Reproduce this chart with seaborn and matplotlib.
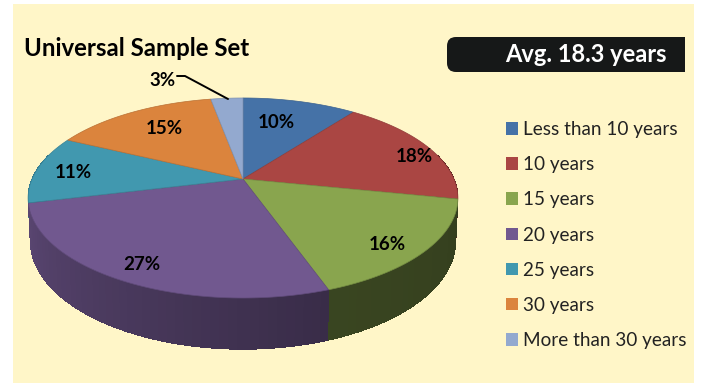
import numpy as np
import matplotlib
matplotlib.use("Agg")
import matplotlib.pyplot as plt
from matplotlib.patches import FancyBboxPatch, Patch, Rectangle
import seaborn as sns

categories = ["Less than 10 years", "10 years", "15 years", "20 years",
              "25 years", "30 years", "More than 30 years"]
values = [10.3, 17.9, 16.4, 26.6, 11.0, 14.9, 2.9]
colors = ["#4572A7", "#AA4643", "#89A54E", "#71588F", "#4198AF", "#DB843D", "#93A9CF"]
title = "Universal Sample Set"
badge = "Avg. 18.3 years"

sns.set_theme(style="white")
plt.rcParams["font.family"] = ["Lato", "DejaVu Sans"]
palette = sns.color_palette(colors)
BG = "#FFF6C8"

W, H = 702, 383
fig = plt.figure(figsize=(W / 100, H / 100), dpi=100, facecolor="white")
L, T, R, B = 13, 4, 694, 383
ax = fig.add_axes([L / W, 1 - B / H, (R - L) / W, (B - T) / H], facecolor=BG)
ax.set_xlim(L, R)
ax.set_ylim(B, T)
ax.set_xticks([]); ax.set_yticks([])
sns.despine(ax=ax, left=True, bottom=True)

# perspective projection of the pie disc
CX, CY, RX, KY, PERS, DEPTH = 243.0, 179.0, 211.0, 96.4, 0.19, 41.5


def rim(theta):
    w = 1 + PERS * np.cos(theta)
    return CX + RX * np.sin(theta) / w, CY - KY * np.cos(theta) / w


def low(theta):
    w = 1 + PERS * np.cos(theta)
    return CX + 0.99 * RX * np.sin(theta) / w, CY - KY * np.cos(theta) / w + DEPTH / w


edges = np.radians(np.concatenate([[0], np.cumsum(values)]) * 3.6)

# side wall, drawn from the back towards the front
side_shade = [(0.45, 0.45), (0.45, 0.45), (0.38, 0.42), (0.50, 0.80),
              (0.8, 0.8), (0.8, 0.8), (0.8, 0.8)]
segments = []
for i, c in enumerate(palette):
    ts = np.radians(np.arange(np.degrees(edges[i]), np.degrees(edges[i + 1]), 2.0))
    ts = np.append(ts, edges[i + 1])
    for a, b in zip(ts[:-1], ts[1:]):
        m = (a + b) / 2
        if np.cos(m) < 0.25:
            frac = (m - edges[i]) / (edges[i + 1] - edges[i])
            s = side_shade[i][0] + (side_shade[i][1] - side_shade[i][0]) * frac
            segments.append((abs(m - np.pi), a, b, tuple(np.array(c) * s)))
for _, a, b, col in sorted(segments, key=lambda q: -q[0]):
    tt = np.linspace(a, b + 0.012, 4)
    xa, ya = rim(tt)
    xb, yb = low(tt)
    ax.fill(np.r_[xa, xb[::-1]], np.r_[ya, yb[::-1]], facecolor=col, edgecolor="none",
            lw=0, antialiased=False, zorder=2)

# top face
for i, c in enumerate(palette):
    t = np.linspace(edges[i], edges[i + 1], 80)
    x, y = rim(t)
    ax.fill(np.r_[CX, x], np.r_[CY, y], facecolor=c, edgecolor=tuple(np.array(c) * 0.85),
            lw=0.5, zorder=3)

# percentage labels
label_xy = [(276, 122), (414, 156), (387, 244), (142, 265), (73, 172), (164, 128), (162, 80)]
for v, (lx, ly) in zip(values, label_xy):
    ax.text(lx, ly, f"{round(v)}%", ha="center", va="center", fontsize=13.5,
            fontweight="bold", color="black", zorder=5)
ax.plot([177, 185, 228], [76, 76, 99], color="black", lw=1.4, zorder=5)

ax.text(24, 49, title, ha="left", va="center", fontsize=17.3, fontweight="bold", color="black")

# badge, square on the right and rounded on the left
clip = Rectangle((440, 30), 245, 50, transform=ax.transData)
pill = FancyBboxPatch((447, 37), 260, 35, boxstyle="round,pad=0,rounding_size=9",
                      mutation_aspect=1, facecolor="#161818", edgecolor="none",
                      lw=0, zorder=4)
ax.add_patch(pill)
pill.set_clip_path(clip)
ax.text(586, 54, badge, ha="center", va="center", fontsize=17, fontweight="bold",
        color="white", zorder=5)

fs = 13.6
px = fs * 100 / 72
handles = [Patch(facecolor=c, edgecolor="none") for c in palette]
leg = ax.legend(handles, categories, loc="center left", bbox_to_anchor=(506, 235),
                bbox_transform=ax.transData, frameon=False, fontsize=fs,
                handlelength=12 / px, handleheight=12 / px, handletextpad=5 / px,
                labelspacing=(36.5 - px * 0.97) / px, borderpad=0, borderaxespad=0,
                labelcolor="#222222")

fig.savefig("out.png", dpi=100, facecolor="white")
